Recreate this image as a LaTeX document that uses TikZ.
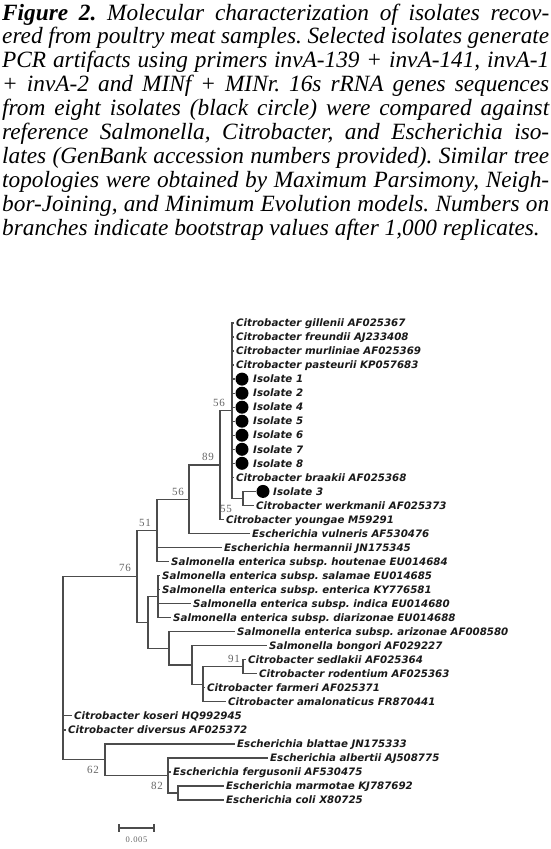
\documentclass[tikz,border=0pt]{standalone}
\usepackage{fontspec}
\setmainfont{Liberation Serif}
\newfontfamily\tipfont{DejaVu Sans}
\newfontfamily\bsfont[LetterSpace=8]{Liberation Serif}
\frenchspacing
\begin{document}
\begin{tikzpicture}[x=1pt,y=-1pt,
  tiplbl/.style={anchor=west, inner xsep=2pt, inner ysep=0pt, text height=7.5pt, text depth=0pt,
    font=\tipfont\fontsize{10.25}{12}\selectfont\bfseries\itshape, text=black!90},
  isodot/.style={circle, fill=black, minimum size=13pt, inner sep=0pt},
  brline/.style={draw=black!70, line width=1.3pt},
  bootlbl/.style={font=\bsfont\fontsize{11}{12}\selectfont, text=black!60, inner sep=0pt},
  captxt/.style={anchor=base west, inner sep=0pt, font=\fontsize{23.3}{24}\selectfont\itshape},
  scalelbl/.style={font=\bsfont\fontsize{8.5}{10}\selectfont, text=black!60, inner sep=0pt}]
\useasboundingbox[fill=white] (0,0) rectangle (551,849);
% caption
\node[captxt] (c1) at (2,20) {\makebox[547pt][s]{\textbf{Figure 2.} Molecular characterization of isolates recov-}};
\node[captxt] (c2) at (2,43.9) {\makebox[547pt][s]{ered from poultry meat samples. Selected isolates generate}};
\node[captxt] (c3) at (2,67.8) {\makebox[547pt][s]{PCR artifacts using primers invA-139 + invA-141, invA-1}};
\node[captxt] (c4) at (2,91.7) {\makebox[547pt][s]{+ invA-2 and MINf + MINr. 16s rRNA genes sequences}};
\node[captxt] (c5) at (2,115.6) {\makebox[547pt][s]{from eight isolates (black circle) were compared against}};
\node[captxt] (c6) at (2,139.5) {\makebox[547pt][s]{reference Salmonella, Citrobacter, and Escherichia iso-}};
\node[captxt] (c7) at (2,163.4) {\makebox[547pt][s]{lates (GenBank accession numbers provided). Similar tree}};
\node[captxt] (c8) at (2,187.3) {\makebox[547pt][s]{topologies were obtained by Maximum Parsimony, Neigh-}};
\node[captxt] (c9) at (2,211.2) {\makebox[547pt][s]{bor-Joining, and Minimum Evolution models. Numbers on}};
\node[captxt] (c10) at (2,235.1) {branches indicate bootstrap values after 1,000 replicates.};
% internal nodes
\coordinate (nA) at (232,410.7);
\coordinate (nW) at (243,498.4);
\coordinate (nB) at (220,465);
\coordinate (nC) at (189,499.3);
\coordinate (nD) at (157,530.4);
\coordinate (nE) at (137,576.5);
\coordinate (nS) at (158,596.6);
\coordinate (nF) at (148,622.5);
\coordinate (nG) at (169,648.4);
\coordinate (nH) at (192,665);
\coordinate (nI) at (203,684.3);
\coordinate (nJ) at (243,666.8);
\coordinate (nR) at (63,668);
\coordinate (nK) at (105,759.7);
\coordinate (nL) at (168,775.5);
\coordinate (nM) at (178,793);
% tips
\node[tiplbl] (gil) at (234,323) {Citrobacter gillenii AF025367};
\node[tiplbl] (fre) at (234,337) {Citrobacter freundii AJ233408};
\node[tiplbl] (mur) at (234,351.1) {Citrobacter murliniae AF025369};
\node[tiplbl] (pas) at (234,365.1) {Citrobacter pasteurii KP057683};
\node[isodot] (d1) at (242,379.1) {};
\node[isodot] (d2) at (242,393.2) {};
\node[isodot] (d4) at (242,407.2) {};
\node[isodot] (d5) at (242,421.2) {};
\node[isodot] (d6) at (242,435.2) {};
\node[isodot] (d7) at (242,449.3) {};
\node[isodot] (d8) at (242,463.3) {};
\node[tiplbl] (i1) at (251,379.1) {Isolate 1};
\node[tiplbl] (i2) at (251,393.2) {Isolate 2};
\node[tiplbl] (i4) at (251,407.2) {Isolate 4};
\node[tiplbl] (i5) at (251,421.2) {Isolate 5};
\node[tiplbl] (i6) at (251,435.2) {Isolate 6};
\node[tiplbl] (i7) at (251,449.3) {Isolate 7};
\node[tiplbl] (i8) at (251,463.3) {Isolate 8};
\node[tiplbl] (bra) at (234,477.3) {Citrobacter braakii AF025368};
\node[isodot] (d3) at (263,491.4) {};
\node[tiplbl] (i3) at (271,491.4) {Isolate 3};
\node[tiplbl] (wer) at (254,505.4) {Citrobacter werkmanii AF025373};
\node[tiplbl] (you) at (224,519.4) {Citrobacter youngae M59291};
\node[tiplbl] (vul) at (250,533.5) {Escherichia vulneris AF530476};
\node[tiplbl] (her) at (222,547.5) {Escherichia hermannii JN175345};
\node[tiplbl] (hou) at (169,561.5) {Salmonella enterica subsp. houtenae EU014684};
\node[tiplbl] (sal) at (160,575.5) {Salmonella enterica subsp. salamae EU014685};
\node[tiplbl] (ent) at (160,589.6) {Salmonella enterica subsp. enterica KY776581};
\node[tiplbl] (ind) at (191,603.6) {Salmonella enterica subsp. indica EU014680};
\node[tiplbl] (dia) at (171,617.6) {Salmonella enterica subsp. diarizonae EU014688};
\node[tiplbl] (ari) at (235,631.7) {Salmonella enterica subsp. arizonae AF008580};
\node[tiplbl] (bon) at (267,645.7) {Salmonella bongori AF029227};
\node[tiplbl] (sed) at (246,659.7) {Citrobacter sedlakii AF025364};
\node[tiplbl] (rod) at (257,673.8) {Citrobacter rodentium AF025363};
\node[tiplbl] (far) at (205,687.8) {Citrobacter farmeri AF025371};
\node[tiplbl] (ama) at (226,701.8) {Citrobacter amalonaticus FR870441};
\node[tiplbl] (kos) at (72,715.8) {Citrobacter koseri HQ992945};
\node[tiplbl] (div) at (66,729.9) {Citrobacter diversus AF025372};
\node[tiplbl] (bla) at (235,743.9) {Escherichia blattae JN175333};
\node[tiplbl] (alb) at (268,757.9) {Escherichia albertii AJ508775};
\node[tiplbl] (fer) at (171,772) {Escherichia fergusonii AF530475};
\node[tiplbl] (mar) at (224,786) {Escherichia marmotae KJ787692};
\node[tiplbl] (col) at (224,800) {Escherichia coli X80725};
% bootstrap values
\node[bootlbl] (b1) at (219,403) {56};
\node[bootlbl] (b2) at (208,457) {89};
\node[bootlbl] (b3) at (178,491.5) {56};
\node[bootlbl] (b4) at (145,523) {51};
\node[bootlbl] (b5) at (125,568) {76};
\node[bootlbl] (b6) at (226,508.5) {55};
\node[bootlbl] (b7) at (234,658.5) {91};
\node[bootlbl] (b8) at (93,770) {62};
\node[bootlbl] (b9) at (157,786) {82};
% branches
\foreach \t in {gil,fre,mur,pas,d1,d2,d4,d5,d6,d7,d8,bra}{\draw[brline] (nA) |- (\t.west);}
\draw[brline] (nA) |- (nW);
\draw[brline] (nW) |- (d3.west);
\draw[brline] (nW) |- (wer.west);
\draw[brline] (nB) |- (nA);
\draw[brline] (nB) |- (you.west);
\draw[brline] (nC) |- (nB);
\draw[brline] (nC) |- (vul.west);
\draw[brline] (nD) |- (nC);
\draw[brline] (nD) |- (her.west);
\draw[brline] (nD) |- (hou.west);
\draw[brline] (nE) |- (nD);
\draw[brline] (nE) |- (nF);
\foreach \t in {sal,ent,ind,dia}{\draw[brline] (nS) |- (\t.west);}
\draw[brline] (nF) |- (nS);
\draw[brline] (nF) |- (nG);
\draw[brline] (nG) |- (ari.west);
\draw[brline] (nG) |- (nH);
\draw[brline] (nH) |- (bon.west);
\draw[brline] (nH) |- (nI);
\draw[brline] (nI) |- (nJ);
\draw[brline] (nI) |- (far.west);
\draw[brline] (nI) |- (ama.west);
\draw[brline] (nJ) |- (sed.west);
\draw[brline] (nJ) |- (rod.west);
\draw[brline] (nR) |- (nE);
\draw[brline] (nR) |- (kos.west);
\draw[brline] (nR) |- (div.west);
\draw[brline] (nR) |- (nK);
\draw[brline] (nK) |- (bla.west);
\draw[brline] (nK) |- (nL);
\draw[brline] (nL) |- (alb.west);
\draw[brline] (nL) |- (fer.west);
\draw[brline] (nL) |- (nM);
\draw[brline] (nM) |- (mar.west);
\draw[brline] (nM) |- (col.west);
% scale bar
\coordinate (s1) at (119,828);
\coordinate (s2) at (154,828);
\draw[brline] (s1) -- (s2);
\draw[brline] ([yshift=4pt]s1) -- ([yshift=-4pt]s1);
\draw[brline] ([yshift=4pt]s2) -- ([yshift=-4pt]s2);
\node[scalelbl] (sl) at (136.5,840) {0.005};
\end{tikzpicture}
\end{document}
